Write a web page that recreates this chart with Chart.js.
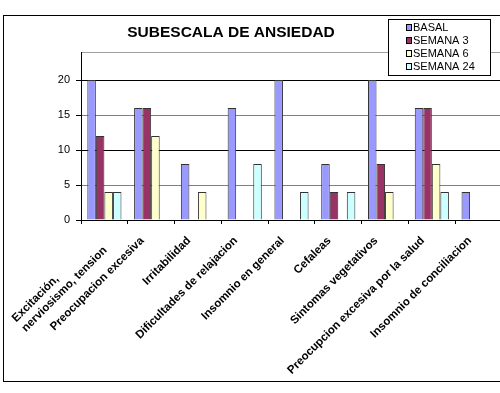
<!DOCTYPE html>
<html>
<head>
<meta charset="utf-8">
<script src="https://cdn.jsdelivr.net/npm/chart.js@4.4.0/dist/chart.umd.min.js"></script>
<style>
html, body { margin: 0; padding: 0; background: #fff; overflow: hidden; width: 500px; height: 393px; }
#wrap { position: absolute; left: 0; top: 0; width: 502px; height: 393px; }
</style>
</head>
<body>
<div id="wrap"><canvas id="grafico"></canvas></div>
<script>
const categorias = [
    ['Excitación,', 'nerviosismo, tension'],
    'Preocupacion excesiva',
    'Irritabilidad',
    'Dificultades de relajacion',
    'Insomnio en general',
    'Cefaleas',
    'Sintomas vegetativos',
    'Preocupcion excesiva por la salud',
    'Insomnio de conciliacion'
];
const basal    = [20, 16, 8, 16, 20, 8, 20, 16, 4];
const semana3  = [12, 16, 0, 0, 0, 4, 8, 16, 0];
const semana6  = [4, 12, 4, 0, 0, 0, 4, 8, 0];
const semana24 = [4, 0, 0, 8, 4, 4, 0, 4, 0];
const yTicks = [0, 5, 10, 15, 20];
const titulo = 'SUBESCALA DE ANSIEDAD';

const FONT = '"Liberation Sans", Arial, sans-serif';
const FONT_X = 'bold 11.5px ' + FONT;

// para alinear a la izquierda las etiquetas de varias lineas
const medidor = document.createElement('canvas').getContext('2d');

// marco, titulo y leyenda estilo Excel
const decoracion = {
    id: 'decoracion',
    beforeDraw(chart) {
        const ctx = chart.ctx;
        ctx.save();
        ctx.fillStyle = '#fff';
        ctx.fillRect(0, 0, chart.width, chart.height);
        ctx.strokeStyle = '#000';
        ctx.lineWidth = 1;
        ctx.strokeRect(3.5, 15.5, 700, 366);
        ctx.restore();
    },
    afterDraw(chart) {
        const ctx = chart.ctx;
        ctx.save();
        ctx.fillStyle = '#000';
        ctx.font = 'bold 15.5px ' + FONT;
        ctx.textAlign = 'center';
        ctx.textBaseline = 'alphabetic';
        ctx.fillText(titulo, 231, 37);

        // leyenda
        ctx.fillStyle = '#fff';
        ctx.fillRect(388, 19, 102, 56);
        ctx.strokeStyle = '#000';
        ctx.strokeRect(388.5, 19.5, 102, 56);
        ctx.font = '11px ' + FONT;
        ctx.textAlign = 'left';
        ctx.textBaseline = 'middle';
        chart.data.datasets.forEach((ds, i) => {
            const y = 27 + i * 13;
            ctx.fillStyle = ds.backgroundColor;
            ctx.fillRect(406, y - 3, 6, 6);
            ctx.strokeStyle = '#000';
            ctx.strokeRect(406.5, y - 2.5, 5, 6);
            ctx.fillStyle = '#000';
            ctx.fillText(ds.label, 413, y + 0.5);
        });
        ctx.restore();
    }
};

new Chart(document.getElementById('grafico'), {
    type: 'bar',
    data: {
        labels: categorias,
        datasets: [
            { label: 'BASAL', data: basal, backgroundColor: '#9999FF' },
            { label: 'SEMANA 3', data: semana3, backgroundColor: '#993366' },
            { label: 'SEMANA 6', data: semana6, backgroundColor: '#FFFFCC' },
            { label: 'SEMANA 24', data: semana24, backgroundColor: '#CCFFFF' }
        ]
    },
    options: {
        responsive: true,
        maintainAspectRatio: false,
        animation: false,
        layout: { padding: { top: 52, right: 0, left: 0, bottom: 0 } },
        datasets: {
            bar: {
                borderColor: '#333',
                borderWidth: 1,
                borderSkipped: 'start',
                categoryPercentage: 0.73,
                barPercentage: 1
            }
        },
        plugins: {
            legend: { display: false },
            title: { display: false },
            tooltip: { enabled: false }
        },
        scales: {
            x: {
                grid: {
                    display: true,
                    drawOnChartArea: false,
                    drawTicks: true,
                    tickLength: 4,
                    color: '#000',
                    offset: true
                },
                border: { color: '#000', width: 1 },
                ticks: {
                    color: '#000',
                    font: { family: FONT, size: 11.5, weight: 'bold' },
                    maxRotation: 45,
                    minRotation: 45,
                    autoSkip: false,
                    padding: 10,
                    labelOffset: -9,
                    callback(value) {
                        const l = this.getLabelForValue(value);
                        if (!Array.isArray(l)) return l;
                        medidor.font = FONT_X;
                        const w = Math.max(...l.map(s => medidor.measureText(s).width));
                        return l.map(s => {
                            let t = s;
                            while (medidor.measureText(t + ' ').width <= w + 1) t += ' ';
                            return t;
                        });
                    }
                },
                afterFit(scale) {
                    scale.height = 173;
                    scale.paddingLeft = 0;
                    scale.paddingRight = 0;
                }
            },
            y: {
                min: 0,
                max: 24,
                ticks: {
                    stepSize: 5,
                    color: '#000',
                    font: { family: FONT, size: 11 },
                    padding: 6,
                    callback: v => yTicks.includes(v) ? v : ''
                },
                grid: {
                    tickLength: 5,
                    color: c => c.tick.value === 24 ? '#a0a0a0' : (c.tick.value % 10 === 0 ? '#000' : '#808080'),
                    tickColor: c => yTicks.includes(c.tick.value) ? '#000' : 'rgba(0,0,0,0)'
                },
                border: { color: '#000', width: 1 },
                afterFit(scale) {
                    scale.width = 81;
                    scale.paddingTop = 0;
                    scale.paddingBottom = 0;
                }
            }
        }
    },
    plugins: [decoracion]
});
</script>
</body>
</html>
